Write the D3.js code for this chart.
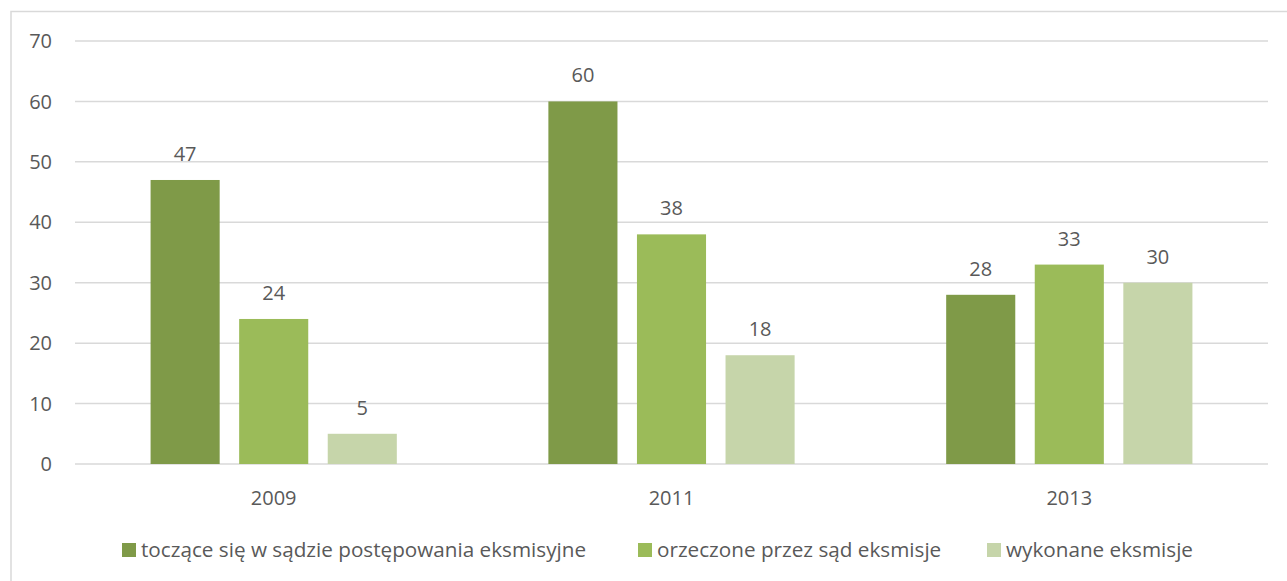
<!DOCTYPE html>
<html>
<head>
<meta charset="utf-8">
<script src="https://d3js.org/d3.v7.min.js"></script>
<style>
  body { margin: 0; background: #fff; }
  text { font-family: "Open Sans", sans-serif; fill: #595959; }
</style>
</head>
<body>
<div id="vis"></div>
<script>
// frame sizes
const WIDTH = 1287;
const HEIGHT = 581;
const MARGINS = {left: 75, right: 19, top: 41, bottom: 117};

// data
const years = ["2009", "2011", "2013"];
const seriesNames = ["toczące się w sądzie postępowania eksmisyjne",
                     "orzeczone przez sąd eksmisje",
                     "wykonane eksmisje"];
const pending = [47, 60, 28];
const ruled = [24, 38, 33];
const executed = [5, 18, 30];
const yTicks = [0, 10, 20, 30, 40, 50, 60, 70];
const colors = ["#7f9a48", "#9bbb59", "#c6d5aa"];

const seriesValues = [pending, ruled, executed];

const FRAME = d3.select("#vis")
  .append("svg")
    .attr("width", WIDTH)
    .attr("height", HEIGHT);

// outer border (right and bottom edges fall outside the picture)
FRAME.append("rect")
  .attr("x", 11).attr("y", 11.5)
  .attr("width", WIDTH).attr("height", HEIGHT)
  .attr("fill", "none")
  .attr("stroke", "#d9d9d9")
  .attr("stroke-width", 1.5);

const x0 = d3.scaleBand()
  .domain(years)
  .range([MARGINS.left, WIDTH - MARGINS.right])
  .paddingInner(0.381)
  .paddingOuter(0.19);

const x1 = d3.scaleBand()
  .domain(d3.range(seriesNames.length))
  .range([0, x0.bandwidth()])
  .paddingInner(0.22)
  .paddingOuter(0);

const y = d3.scaleLinear()
  .domain([0, 70])
  .range([HEIGHT - MARGINS.bottom, MARGINS.top]);

// gridlines
FRAME.selectAll(".grid")
  .data(yTicks)
  .enter()
  .append("line")
    .attr("x1", MARGINS.left)
    .attr("x2", WIDTH - MARGINS.right)
    .attr("y1", (d) => y(d))
    .attr("y2", (d) => y(d))
    .attr("stroke", "#d9d9d9")
    .attr("stroke-width", 1.5);

// y tick labels
FRAME.selectAll(".ylab")
  .data(yTicks)
  .enter()
  .append("text")
    .attr("x", 52)
    .attr("y", (d) => y(d))
    .attr("dy", "0.36em")
    .attr("text-anchor", "end")
    .attr("font-size", 20)
    .text((d) => d);

// bars
const groups = FRAME.selectAll(".group")
  .data(years)
  .enter()
  .append("g")
    .attr("transform", (d) => "translate(" + x0(d) + ",0)");

groups.selectAll("rect")
  .data((d, i) => seriesValues.map((vals, s) => ({s: s, v: vals[i]})))
  .enter()
  .append("rect")
    .attr("x", (d) => x1(d.s))
    .attr("width", x1.bandwidth())
    .attr("y", (d) => y(d.v))
    .attr("height", (d) => y(0) - y(d.v))
    .attr("fill", (d) => colors[d.s]);

groups.selectAll(".val")
  .data((d, i) => seriesValues.map((vals, s) => ({s: s, v: vals[i]})))
  .enter()
  .append("text")
    .attr("x", (d) => x1(d.s) + x1.bandwidth() / 2)
    .attr("y", (d) => y(d.v) - 19)
    .attr("text-anchor", "middle")
    .attr("font-size", 20)
    .text((d) => d.v);

// x labels
FRAME.selectAll(".xlab")
  .data(years)
  .enter()
  .append("text")
    .attr("x", (d) => x0(d) + x0.bandwidth() / 2)
    .attr("y", 505)
    .attr("text-anchor", "middle")
    .attr("font-size", 20)
    .text((d) => d);

// legend
const legendX = [122, 638, 987];
const legend = FRAME.selectAll(".legend")
  .data(seriesNames)
  .enter()
  .append("g")
    .attr("transform", (d, i) => "translate(" + legendX[i] + ",543)");

legend.append("rect")
  .attr("width", 14).attr("height", 14)
  .attr("fill", (d, i) => colors[i]);

legend.append("text")
  .attr("x", 19)
  .attr("y", 7)
  .attr("dy", "0.36em")
  .attr("font-size", 20.7)
  .text((d) => d);
</script>
</body>
</html>
